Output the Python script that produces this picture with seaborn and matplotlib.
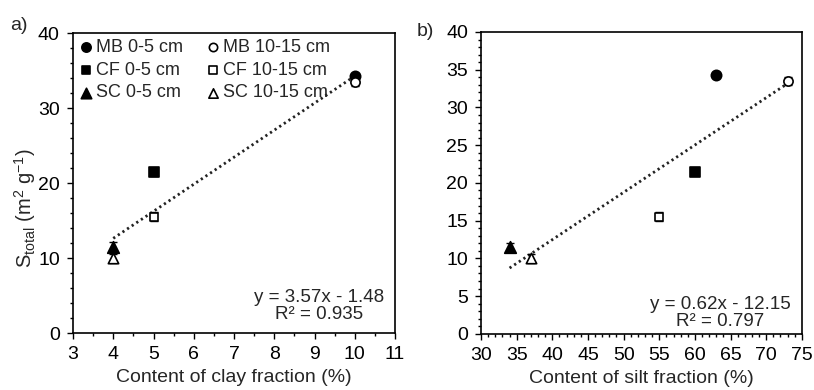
import numpy as np
import pandas as pd
import matplotlib
matplotlib.use("Agg")
import matplotlib.pyplot as plt
import seaborn as sns
from matplotlib.ticker import MultipleLocator

sns.set_theme(style="ticks")
plt.rcParams['font.family'] = ['Liberation Sans', 'DejaVu Sans']
plt.rcParams['mathtext.fontset'] = 'custom'
plt.rcParams['mathtext.rm'] = 'Liberation Sans'
plt.rcParams['mathtext.it'] = 'Liberation Sans:italic'

# ---- data ----
labels = ["MB 0-5 cm", "CF 0-5 cm", "SC 0-5 cm", "MB 10-15 cm", "CF 10-15 cm", "SC 10-15 cm"]
clay = [10, 5, 4, 10, 5, 4]
silt = [63, 60, 34, 73, 55, 37]
s_total = [34.3, 21.5, 11.5, 33.5, 15.5, 10.0]
s_err = [0.4, 0.5, 0.6, 0.5, 0.6, 0.6]
markers = ["o", "s", "^", "o", "s", "^"]
filled = [True, True, True, False, False, False]
eq_a = "y = 3.57x - 1.48\nR² = 0.935"
eq_b = "y = 0.62x - 12.15\nR² = 0.797"

df = pd.DataFrame({"label": labels, "clay": clay, "silt": silt,
                   "S": s_total, "err": s_err})

fig = plt.figure(figsize=(8.14, 3.9), dpi=100)
ax_a = fig.add_axes([0.0897, 0.146, 0.3956, 0.769])
ax_b = fig.add_axes([0.591, 0.144, 0.394, 0.774])

def draw(ax, xcol):
    sns.regplot(data=df, x=xcol, y="S", ax=ax, scatter=False, ci=None, truncate=True,
                line_kws=dict(color="#222222", lw=2.0, ls=(0, (0.8, 1.2))))
    for i, row in df.iterrows():
        ax.errorbar(row[xcol], row["S"], yerr=row["err"], fmt="none",
                    ecolor="black", elinewidth=1, capsize=3, zorder=3)
        sizes = {"o": 55, "s": 50, "^": 70}
        sns.scatterplot(x=[row[xcol]], y=[row["S"]], ax=ax, marker=markers[i],
                        s=sizes[markers[i]] if filled[i] else sizes[markers[i]] * 0.8,
                        color="black" if filled[i] else "white",
                        edgecolor="black", linewidth=1.2, label=row["label"], zorder=4)
    for sp in ax.spines.values():
        sp.set_visible(True)
        sp.set_linewidth(1.2)
        sp.set_color("black")
    ax.tick_params(which="major", direction="out", length=4.5, width=1, labelsize=14,
                   colors="black", pad=5)
    ax.tick_params(which="minor", direction="out", length=2.5, width=1, colors="black")
    ax.set_ylabel("")

draw(ax_a, "clay")
ax_a.set_xlim(3, 11)
ax_a.set_ylim(0, 40)
ax_a.xaxis.set_major_locator(MultipleLocator(1))
ax_a.xaxis.set_minor_locator(MultipleLocator(0.5))
ax_a.yaxis.set_major_locator(MultipleLocator(10))
ax_a.yaxis.set_minor_locator(MultipleLocator(2))
ax_a.set_xlabel("Content of clay fraction (%)", fontsize=14, labelpad=4)
ax_a.set_ylabel(r"S$_{\rm total}$ (m$^{2}$ g$^{-1}$)", fontsize=14.5)
ax_a.yaxis.set_label_coords(-0.11, 0.417)
h, l = ax_a.get_legend_handles_labels()
ax_a.legend(h, l, ncol=2, loc="upper left", frameon=False, fontsize=13,
            handlelength=0.8, handletextpad=0.15, columnspacing=1.3, labelspacing=0.33,
            borderaxespad=0.1, borderpad=0.2, markerscale=0.9)
ax_a.text(0.765, 0.09, eq_a, transform=ax_a.transAxes, ha="center", va="center",
          multialignment="center", fontsize=13.5, linespacing=1.0)
ax_a.text(-0.196, 1.027, "a)", transform=ax_a.transAxes, fontsize=14, ha="left", va="center")

draw(ax_b, "silt")
ax_b.set_xlim(30, 75)
ax_b.set_ylim(0, 40)
ax_b.xaxis.set_major_locator(MultipleLocator(5))
ax_b.xaxis.set_minor_locator(MultipleLocator(1))
ax_b.yaxis.set_major_locator(MultipleLocator(5))
ax_b.yaxis.set_minor_locator(MultipleLocator(1))
ax_b.set_xlabel("Content of silt fraction (%)", fontsize=14, labelpad=4)
ax_b.get_legend().remove()
ax_b.text(0.745, 0.068, eq_b, transform=ax_b.transAxes, ha="center", va="center",
          multialignment="center", fontsize=13.5, linespacing=1.0)
ax_b.text(-0.2, 1.0, "b)", transform=ax_b.transAxes, fontsize=14, ha="left", va="center")

fig.savefig("out.png", dpi=100, facecolor="white")
